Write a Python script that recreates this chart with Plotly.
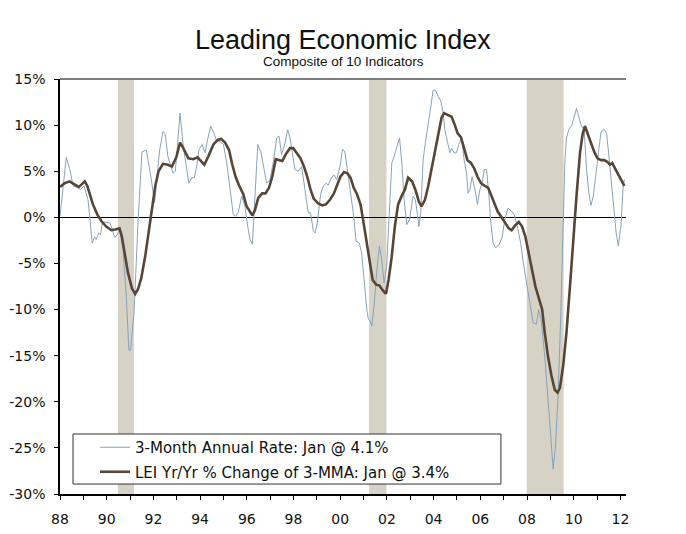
import plotly.graph_objects as go

# ---- data (decimal years, values in %) ----
rate_years = [1988.0, 1988.27, 1988.41, 1988.56, 1988.77, 1988.88, 1989.03, 1989.2, 1989.38, 1989.48, 1989.55, 1989.66, 1989.74, 1989.81, 1989.91,
              1990.13, 1990.23, 1990.34, 1990.45, 1990.55, 1990.7, 1990.84, 1990.95, 1991.02, 1991.17, 1991.34, 1991.51, 1991.7, 1991.91,
              1992.05, 1992.17, 1992.27, 1992.41, 1992.5, 1992.62, 1992.84, 1992.94, 1993.14, 1993.28, 1993.42, 1993.52, 1993.64, 1993.75,
              1993.85, 1993.95, 1994.09, 1994.21, 1994.32, 1994.45, 1994.57, 1994.71, 1994.85, 1995.0, 1995.14, 1995.28, 1995.42, 1995.52,
              1995.64, 1995.78, 1995.92, 1996.04, 1996.14, 1996.24, 1996.35, 1996.47, 1996.61, 1996.71, 1996.85, 1997.0, 1997.14, 1997.28,
              1997.38, 1997.49, 1997.64, 1997.75, 1997.85, 1997.95, 1998.06, 1998.2, 1998.35, 1998.49, 1998.63, 1998.73, 1998.85, 1998.92,
              1999.02, 1999.16, 1999.28, 1999.39, 1999.49, 1999.63, 1999.73, 1999.85, 1999.99, 2000.1, 2000.2, 2000.3, 2000.42, 2000.56,
              2000.68, 2000.82, 2000.92, 2001.02, 2001.14, 2001.21, 2001.28, 2001.35, 2001.45, 2001.56, 2001.68, 2001.78, 2001.88, 2001.99,
              2002.11, 2002.21, 2002.31, 2002.42, 2002.54, 2002.64, 2002.74, 2002.85, 2002.97, 2003.12, 2003.22, 2003.31, 2003.37, 2003.45,
              2003.55, 2003.65, 2003.77, 2003.88, 2003.98, 2004.08, 2004.2, 2004.31, 2004.41, 2004.48, 2004.6, 2004.7, 2004.77, 2004.88,
              2004.98, 2005.08, 2005.2, 2005.31, 2005.41, 2005.48, 2005.55, 2005.65, 2005.77, 2005.88, 2005.98, 2006.08, 2006.17, 2006.27,
              2006.37, 2006.45, 2006.55, 2006.65, 2006.8, 2006.94, 2007.05, 2007.19, 2007.34, 2007.45, 2007.57, 2007.73, 2007.84, 2007.91,
              2008.05, 2008.19, 2008.26, 2008.4, 2008.5, 2008.62, 2008.76, 2008.9, 2009.02, 2009.12, 2009.22, 2009.33, 2009.45, 2009.55,
              2009.62, 2009.69, 2009.79, 2009.91, 2010.02, 2010.12, 2010.22, 2010.33, 2010.45, 2010.55, 2010.65, 2010.74, 2010.84, 2010.94,
              2011.05, 2011.17, 2011.31, 2011.41, 2011.51, 2011.62, 2011.74, 2011.82, 2011.91, 2012.02, 2012.12, 2012.17]
rate_values = [0.1, 6.5, 5.3, 3.4, 3.2, 3.0, 3.4, 1.9, -2.8, -2.1, -2.4, -1.7, -1.9, -0.6, -0.5,
               -0.6, -1.2, -2.2, -1.9, -1.2, -3.5, -8.6, -14.4, -14.4, -10.4, -0.6, 7.1, 7.3, 4.1,
               1.6, 4.8, 7.3, 9.3, 9.1, 6.6, 4.8, 5.0, 11.3, 7.7, 5.0, 3.7, 4.3, 4.3,
               5.5, 7.3, 7.9, 7.0, 8.4, 9.9, 9.3, 8.2, 8.2, 7.9, 5.9, 3.0, 0.3, 0.1,
               0.6, 2.3, 1.2, -1.0, -2.4, -2.9, 3.0, 7.9, 7.0, 5.5, 3.7, 4.1, 6.1, 8.6,
               8.8, 6.8, 8.1, 9.5, 8.6, 7.0, 5.2, 5.0, 5.5, 3.0, 0.5, 0.5, -1.5, -1.7,
               -0.6, 2.5, 3.4, 3.7, 3.5, 4.3, 4.6, 4.1, 5.5, 7.4, 7.1, 5.3, 3.0, 0.5,
               -2.6, -2.8, -3.9, -6.8, -10.0, -11.1, -11.2, -11.8, -9.6, -6.0, -3.1, -4.6, -7.1, -5.3,
               1.2, 5.9, 6.6, 7.5, 8.6, 5.9, 1.9, -0.8, -0.25, 2.3, 1.9, 0.3, -1.0, 0.5,
               6.2, 8.1, 9.9, 12.0, 13.8, 13.8, 13.1, 12.6, 11.3, 9.5, 8.1, 7.0, 7.5, 7.0,
               7.0, 7.9, 8.6, 6.2, 4.8, 2.6, 3.0, 4.4, 3.0, 1.4, 3.0, 3.7, 5.2, 5.2,
               2.3, -0.6, -2.8, -3.3, -3.0, -2.1, -0.25, 1.0, 0.65, 0.3, -0.8, -2.8, -4.9, -6.0,
               -8.2, -10.0, -11.4, -11.6, -10.0, -11.4, -15.1, -19.7, -24.1, -27.3, -24.8, -19.4, -10.4, -1.3,
               5.9, 8.6, 9.5, 9.9, 10.8, 11.8, 10.9, 9.9, 9.5, 5.2, 2.6, 1.3, 2.3, 4.4,
               7.0, 9.3, 9.5, 9.1, 6.6, 3.7, 0.5, -1.7, -3.1, -1.0, 3.4, 4.1]

lei_years = [1988.0, 1988.2, 1988.41, 1988.63, 1988.8, 1988.94, 1989.06, 1989.17, 1989.27, 1989.41, 1989.6, 1989.77, 1989.98,
             1990.2, 1990.41, 1990.55, 1990.65, 1990.77, 1990.91, 1991.08, 1991.22, 1991.34, 1991.48, 1991.65, 1991.8, 1991.94,
             1992.08, 1992.22, 1992.41, 1992.62, 1992.79, 1992.98, 1993.14, 1993.28, 1993.5, 1993.71, 1993.89, 1994.04, 1994.18,
             1994.35, 1994.57, 1994.75, 1994.9, 1995.07, 1995.24, 1995.38, 1995.52, 1995.66, 1995.85, 1995.99, 1996.14, 1996.24,
             1996.35, 1996.49, 1996.66, 1996.8, 1996.95, 1997.09, 1997.24, 1997.38, 1997.52, 1997.66, 1997.85, 1997.99, 1998.13,
             1998.3, 1998.45, 1998.59, 1998.73, 1998.87, 1999.06, 1999.24, 1999.39, 1999.56, 1999.73, 1999.87, 2000.01, 2000.16,
             2000.3, 2000.44, 2000.58, 2000.72, 2000.87, 2000.98, 2001.11, 2001.25, 2001.39, 2001.54, 2001.68, 2001.82, 2001.96,
             2002.07, 2002.2, 2002.34, 2002.48, 2002.63, 2002.77, 2002.91, 2003.08, 2003.22, 2003.37, 2003.48, 2003.63, 2003.77,
             2003.91, 2004.05, 2004.2, 2004.34, 2004.45, 2004.6, 2004.77, 2004.91, 2005.03, 2005.17, 2005.31, 2005.45, 2005.6,
             2005.74, 2005.88, 2006.03, 2006.2, 2006.34, 2006.45, 2006.6, 2006.74, 2006.91, 2007.08, 2007.22, 2007.34, 2007.48,
             2007.65, 2007.79, 2007.93, 2008.08, 2008.22, 2008.36, 2008.5, 2008.65, 2008.76, 2008.9, 2009.05, 2009.19, 2009.31,
             2009.41, 2009.55, 2009.69, 2009.84, 2009.98, 2010.12, 2010.27, 2010.38, 2010.48, 2010.59, 2010.74, 2010.88, 2011.02,
             2011.17, 2011.31, 2011.45, 2011.55, 2011.65, 2011.77, 2011.91, 2012.05, 2012.17]
lei_values = [3.3, 3.7, 3.9, 3.6, 3.3, 3.6, 3.9, 3.4, 2.5, 1.4, 0.3, -0.4, -1.0,
              -1.4, -1.3, -1.2, -2.1, -3.9, -6.0, -7.7, -8.3, -7.8, -6.6, -4.2, -1.7, 1.0,
              3.4, 5.0, 5.8, 5.7, 5.5, 6.5, 8.1, 7.5, 6.4, 6.3, 6.5, 6.1, 5.7,
              6.6, 7.9, 8.4, 8.5, 8.1, 7.3, 5.7, 4.4, 3.5, 2.5, 1.2, 0.5, 0.2,
              0.8, 2.1, 2.6, 2.6, 3.2, 4.4, 6.3, 6.2, 6.1, 6.8, 7.5, 7.5, 7.0,
              6.4, 5.5, 4.4, 3.0, 2.0, 1.5, 1.3, 1.4, 1.9, 2.6, 3.5, 4.4, 4.9,
              4.8, 4.3, 3.2, 2.5, 1.4, -0.25, -2.4, -4.9, -6.8, -7.3, -7.4, -7.9, -8.3,
              -6.8, -4.4, -1.0, 1.4, 2.3, 3.0, 4.3, 3.9, 3.0, 1.7, 1.2, 1.9, 3.4,
              5.3, 7.3, 9.3, 10.8, 11.3, 11.1, 10.9, 10.0, 9.1, 8.7, 7.5, 6.2, 5.9,
              5.3, 4.4, 3.7, 3.4, 3.2, 2.5, 1.6, 0.65, 0.0, -0.6, -1.2, -1.4, -0.9,
              -0.5, -1.0, -2.1, -3.9, -5.8, -7.5, -8.7, -10.0, -12.5, -15.1, -17.2, -18.7, -19.0,
              -18.5, -16.1, -12.5, -7.5, -2.1, 2.3, 7.0, 9.0, 9.9, 9.1, 8.1, 7.1, 6.4,
              6.2, 6.2, 6.0, 5.7, 5.9, 5.3, 4.6, 3.9, 3.4]

recession_starts = [1990.48, 2001.23, 2007.99]
recession_ends = [1991.17, 2001.98, 2009.57]

tick_years = list(range(1988, 2013))
tick_labels = [f"{y % 100:02d}" if y % 2 == 0 else "" for y in tick_years]

y_tick_values = [15, 10, 5, 0, -5, -10, -15, -20, -25, -30]
y_tick_labels = [f"{v}%" for v in y_tick_values]   # plain hyphen minus, as in the original

rate_name = "3-Month Annual Rate: Jan @ 4.1%"
lei_name = "LEI Yr/Yr % Change of 3-MMA: Jan @ 3.4%"

# ---- figure ----
fig = go.Figure()
fig.add_trace(go.Scatter(x=rate_years, y=rate_values, mode="lines", name=rate_name,
                         legendgroup="a", line=dict(color="#87A3BC", width=1)))
fig.add_trace(go.Scatter(x=lei_years, y=lei_values, mode="lines", name=lei_name,
                         legendgroup="b", line=dict(color="#574637", width=2.6)))

for s, e in zip(recession_starts, recession_ends):
    fig.add_shape(type="rect", xref="x", yref="paper", x0=s, x1=e, y0=0, y1=1,
                  fillcolor="#D6D2C6", line=dict(width=0), layer="below")

# legend box
fig.add_shape(type="rect", xref="paper", yref="paper", x0=0.023, x1=0.779, y0=0.024, y1=0.1446,
              fillcolor="white", line=dict(color="#333333", width=1), layer="above")
# top frame line
fig.add_shape(type="line", xref="paper", yref="paper", x0=0, x1=1, y0=1, y1=1,
              line=dict(color="#7F7F7F", width=2), layer="above")

XR = [1988, 2012.24]
YR = [-30, 15]
tickfont = dict(family="DejaVu Sans, Verdana, sans-serif", size=14, color="#111111")

fig.update_layout(
    width=678, height=526,
    margin=dict(l=52, r=60, t=71, b=40),
    paper_bgcolor="white", plot_bgcolor="white",
    showlegend=True,
    legend=dict(x=0.0618, y=0.1518, xanchor="left", yanchor="top",
                bgcolor="rgba(0,0,0,0)", borderwidth=0,
                font=dict(family="DejaVu Sans, Verdana, sans-serif", size=15, color="#111111"),
                tracegroupgap=2, traceorder="grouped", itemwidth=30),
    xaxis=dict(range=XR, tickvals=tick_years, ticktext=tick_labels, showgrid=False, automargin=False,
               showline=True, linecolor="black", linewidth=1.5, ticks="outside", ticklen=4,
               tickcolor="black", tickwidth=1, tickfont=tickfont, zeroline=False,
               ticklabelstandoff=7),
    xaxis2=dict(range=XR, overlaying="x", anchor="y", tickvals=tick_years, showticklabels=False,
                automargin=False, showgrid=False, ticks="inside", ticklen=4, tickcolor="black",
                tickwidth=1, showline=False),
    yaxis=dict(range=YR, tickvals=y_tick_values, ticktext=y_tick_labels, showgrid=False, showline=True,
               linecolor="black", automargin=False, linewidth=1.5, ticks="outside", ticklen=4,
               tickcolor="black", tickwidth=1, tickfont=tickfont, zeroline=True, zerolinecolor="black",
               zerolinewidth=1, ticklabelstandoff=6),
    yaxis2=dict(range=YR, tickvals=y_tick_values, ticktext=y_tick_labels, overlaying="y", side="right",
                anchor="x", automargin=False, showgrid=False, showline=True, linecolor="black",
                linewidth=1.5, ticks="outside", ticklen=4, tickcolor="black", tickwidth=1,
                tickfont=tickfont, zeroline=False, ticklabelstandoff=13),
    yaxis3=dict(range=YR, tickvals=y_tick_values, overlaying="y", side="left", anchor="x",
                showticklabels=False, automargin=False, showgrid=False, ticks="inside", ticklen=4,
                tickcolor="black", tickwidth=1, zeroline=False),
    yaxis4=dict(range=YR, tickvals=y_tick_values, overlaying="y", side="right", anchor="x",
                showticklabels=False, automargin=False, showgrid=False, ticks="inside", ticklen=4,
                tickcolor="black", tickwidth=1, zeroline=False),
    annotations=[
        dict(text="Leading Economic Index", xref="paper", yref="paper", x=0.5, y=1.095,
             xanchor="center", yanchor="middle", showarrow=False,
             font=dict(family="Liberation Sans Narrow, Arial Narrow, Liberation Sans, sans-serif", size=27, color="#111111")),
        dict(text="Composite of 10 Indicators", xref="paper", yref="paper", x=0.5, y=1.0426,
             xanchor="center", yanchor="middle", showarrow=False,
             font=dict(family="Liberation Sans Narrow, Arial Narrow, Liberation Sans, sans-serif", size=13.5, color="#111111")),
    ],
)

fig.write_html("out.html")
